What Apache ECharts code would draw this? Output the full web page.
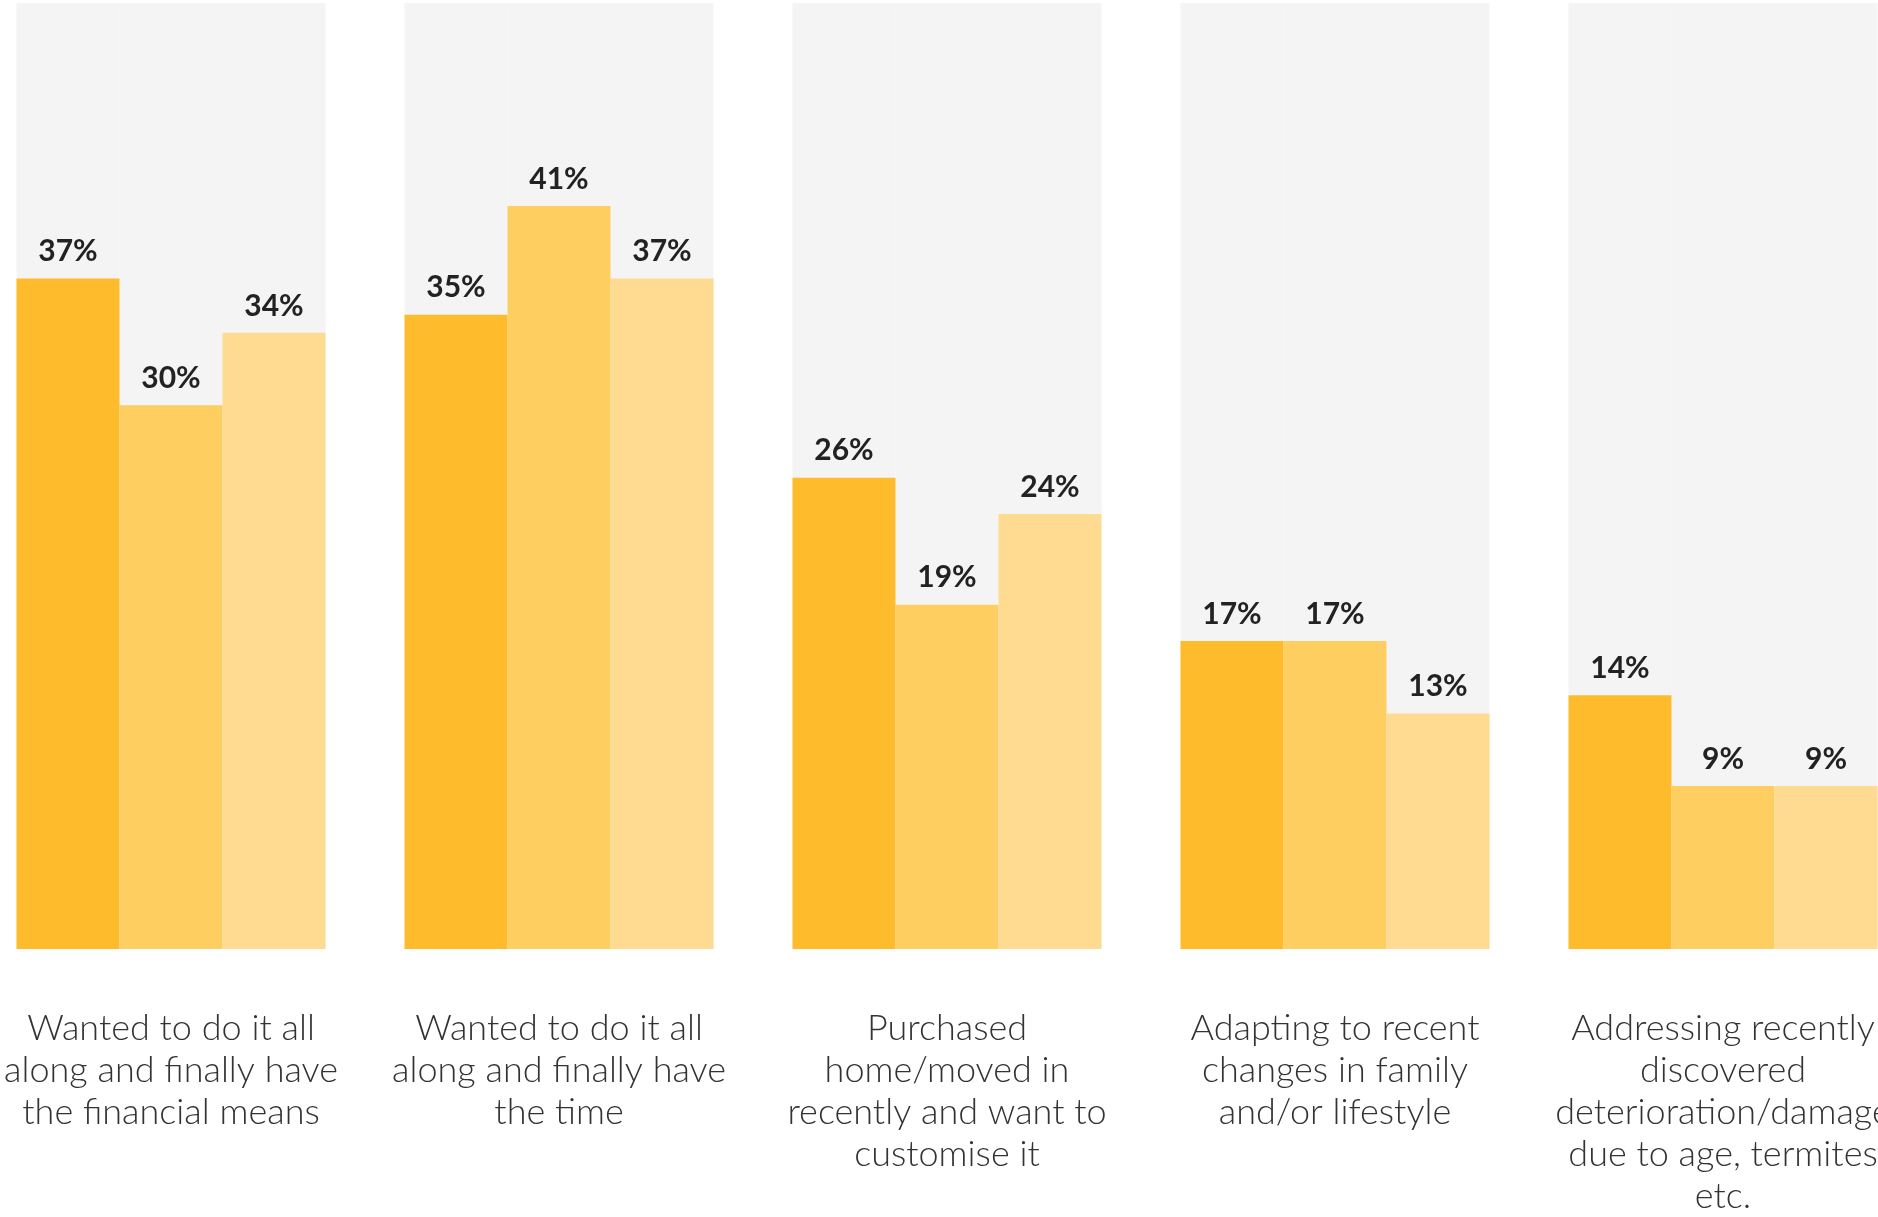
<!DOCTYPE html>
<html>
<head>
<meta charset="utf-8">
<script src="https://cdn.jsdelivr.net/npm/echarts@6/dist/echarts.min.js"></script>
<style>
  html, body { margin: 0; padding: 0; background: #ffffff; overflow: hidden; width: 1878px; height: 1217px; }
  /* the plot runs slightly past both page edges, so the container is wider than the page */
  #chart { position: absolute; left: -23px; top: 0; width: 1940px; height: 1217px; }
</style>
</head>
<body>
<div id="chart"></div>
<script>
// Reasons for renovating, share of respondents (%), three groups per reason
const categories = [
  'Wanted to do it all\nalong and finally have\nthe financial means',
  'Wanted to do it all\nalong and finally have\nthe time',
  'Purchased\nhome/moved in\nrecently and want to\ncustomise it',
  'Adapting to recent\nchanges in family\nand/or lifestyle',
  'Addressing recently\ndiscovered\ndeterioration/damage\ndue to age, termites\netc.'
];
const seriesA = [37, 35, 26, 17, 14];
const seriesB = [30, 41, 19, 17, 9];
const seriesC = [34, 37, 24, 13, 9];

const colors = ['#FEBC2C', '#FECE60', '#FEDB90'];

function barSeries(data, color) {
  return {
    type: 'bar',
    data: data,
    barWidth: 103,
    barGap: '0%',
    itemStyle: { color: color },
    showBackground: true,
    backgroundStyle: { color: '#F4F4F4' },
    label: {
      show: true,
      position: 'top',
      distance: 12,
      formatter: '{c}%',
      fontFamily: 'Lato',
      fontWeight: 700,
      fontSize: 30,
      color: '#222222'
    }
  };
}

const chart = echarts.init(document.getElementById('chart'), null, { renderer: 'canvas' });
chart.setOption({
  animation: false,
  backgroundColor: '#ffffff',
  grid: { left: 0, right: 0, top: 3, bottom: 241, containLabel: false },
  xAxis: {
    type: 'category',
    data: categories,
    axisLine: { show: false },
    axisTick: { show: false },
    axisLabel: {
      interval: 0,
      margin: 58,
      fontFamily: 'Lato',
      fontWeight: 300,
      fontSize: 36,
      lineHeight: 42,
      color: '#333333',
      align: 'center'
    }
  },
  yAxis: {
    type: 'value',
    min: 0,
    max: 52.2,
    show: false,
    splitLine: { show: false }
  },
  series: [
    barSeries(seriesA, colors[0]),
    barSeries(seriesB, colors[1]),
    barSeries(seriesC, colors[2])
  ]
});
</script>
</body>
</html>
